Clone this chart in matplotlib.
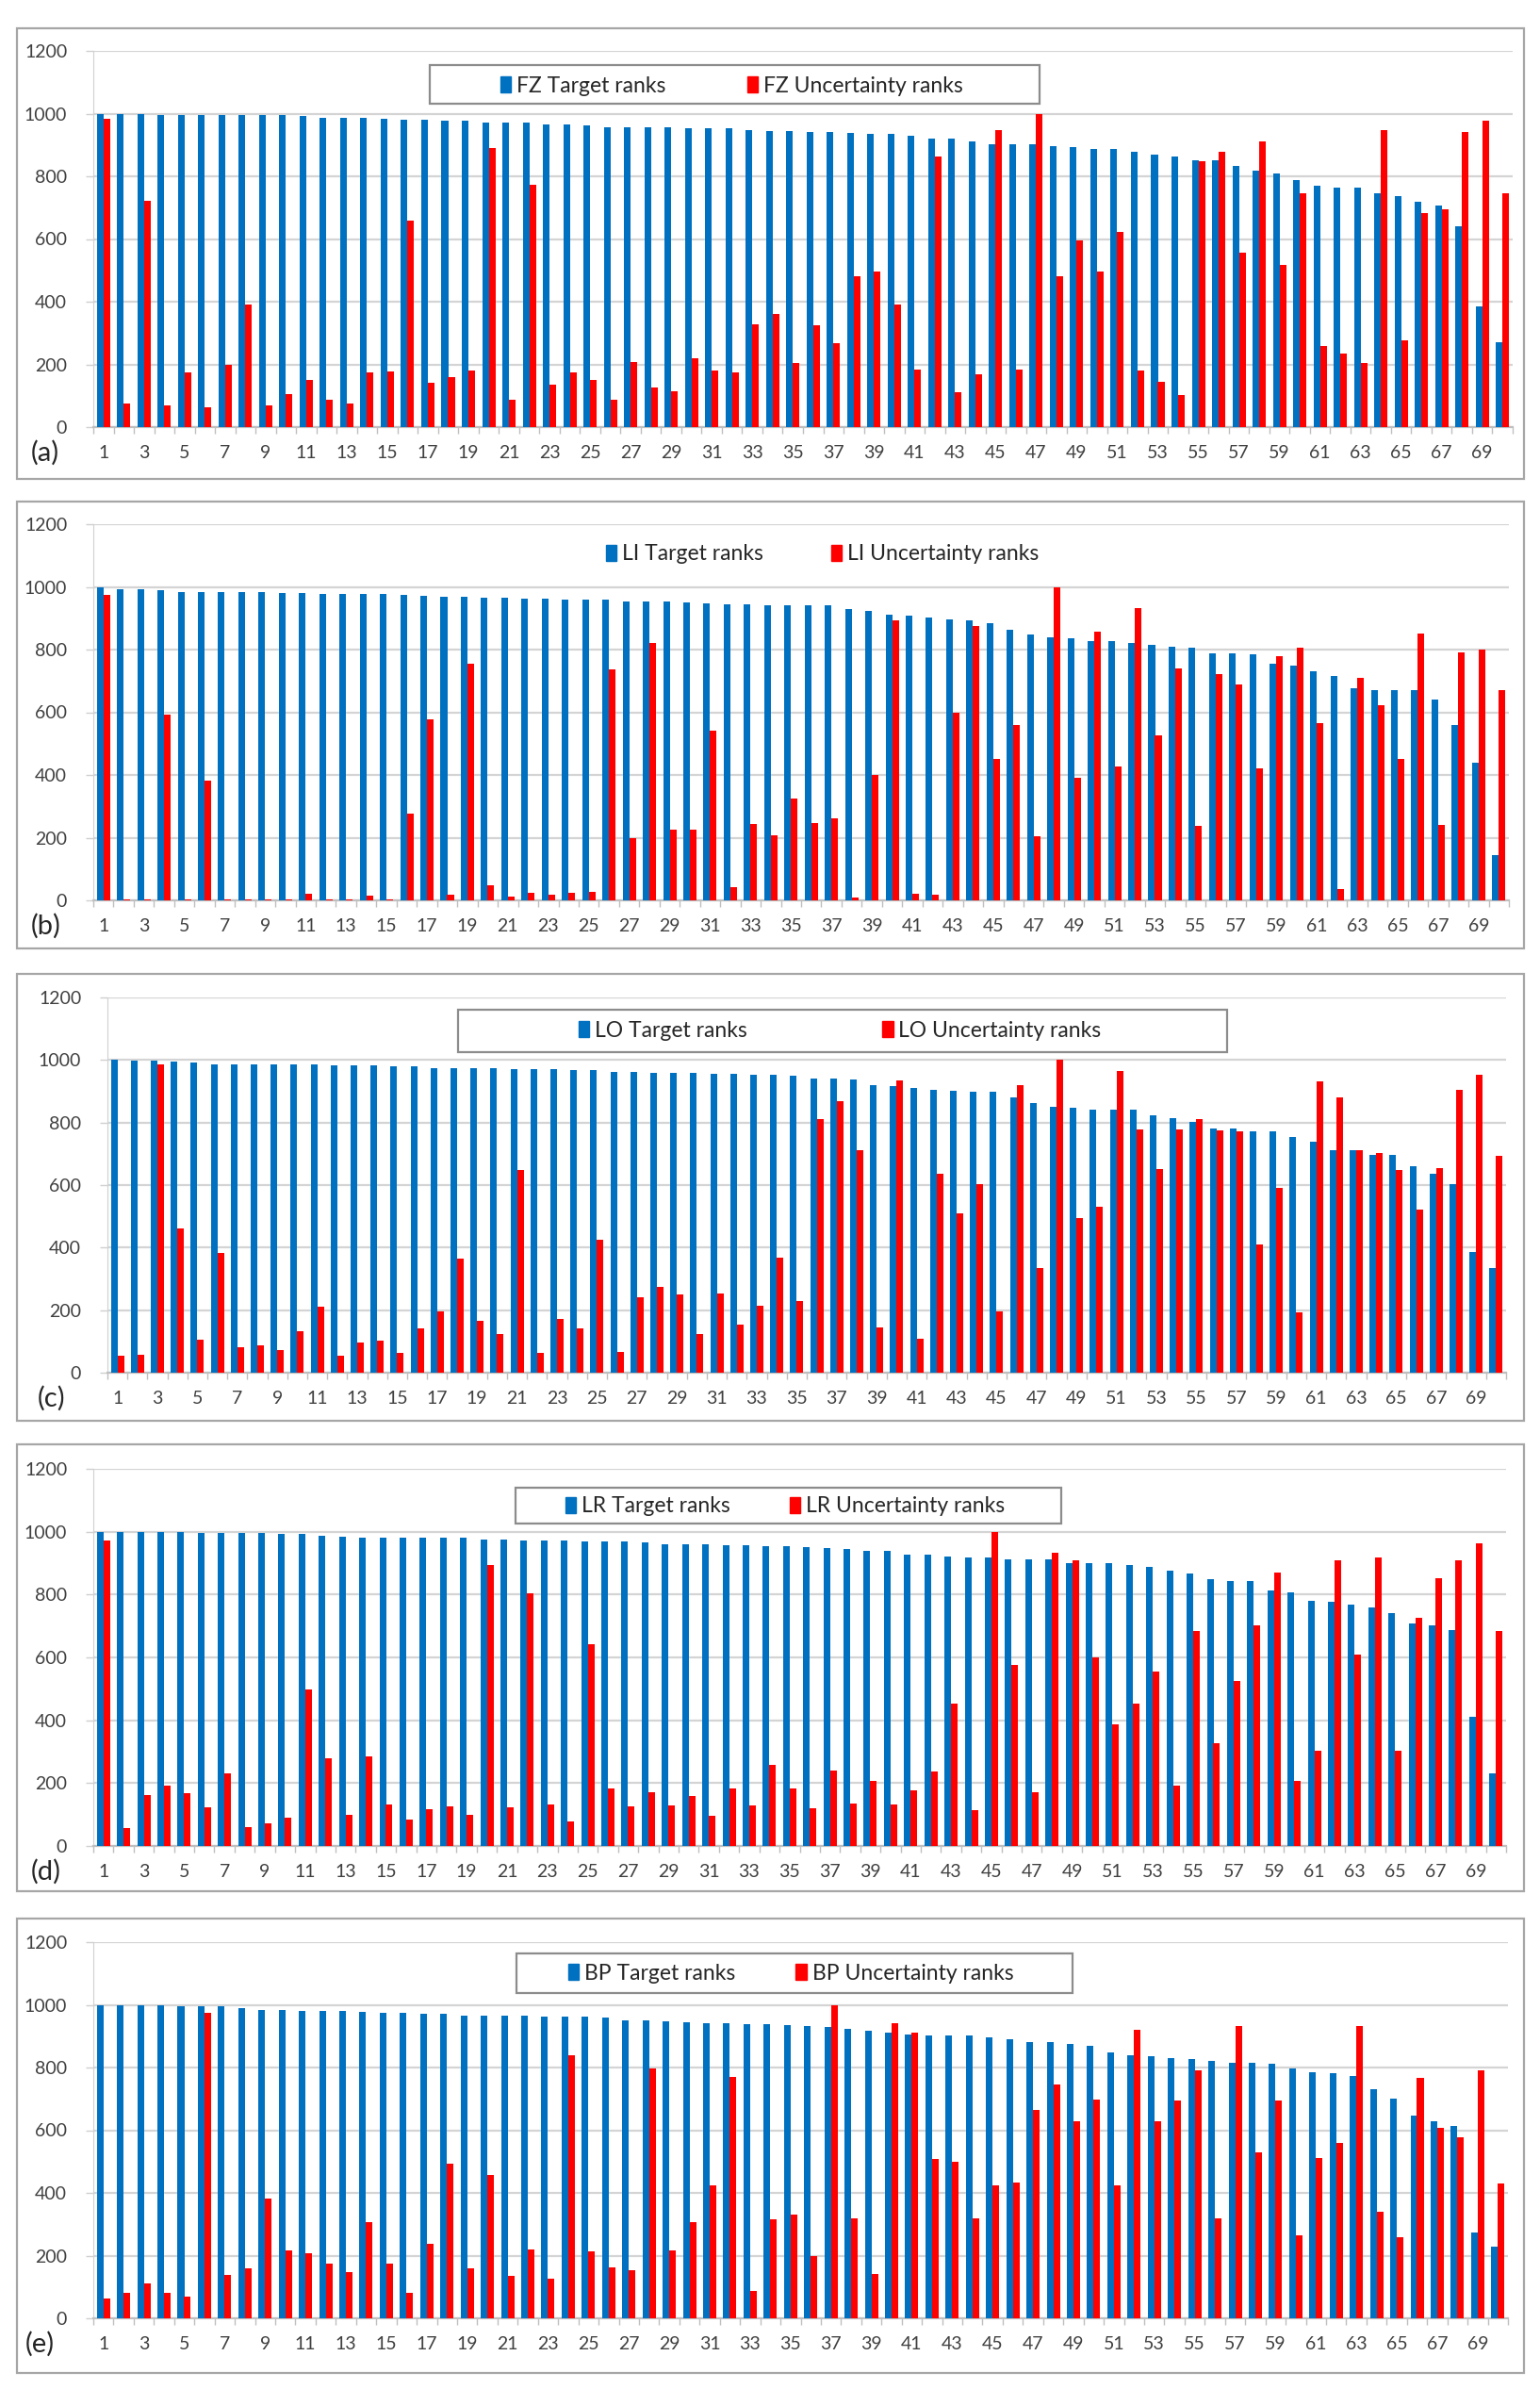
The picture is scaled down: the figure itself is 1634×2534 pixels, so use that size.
import numpy as np
import matplotlib
matplotlib.use('Agg')
import matplotlib.pyplot as plt
from matplotlib.patches import Rectangle, Patch

plt.rcParams['font.family'] = ['Lato', 'DejaVu Sans']

# values (rank, 1..70 per panel)
fz_target = [1000, 998, 998, 996, 996, 996, 996, 996, 996, 996,
             992, 986, 986, 985, 982, 980, 980, 976, 976, 972,
             972, 972, 966, 966, 962, 956, 956, 956, 956, 952,
             952, 952, 948, 944, 944, 940, 940, 937, 935, 934,
             928, 919, 919, 910, 902, 902, 902, 896, 892, 887,
             887, 877, 868, 864, 852, 852, 834, 819, 810, 787,
             770, 765, 765, 745, 737, 719, 707, 640, 384, 272]
fz_unc = [984, 76, 722, 70, 175, 64, 197, 390, 70, 106,
          150, 86, 76, 174, 176, 659, 140, 159, 179, 891,
          86, 774, 134, 175, 150, 86, 208, 126, 114, 220,
          179, 174, 329, 362, 205, 324, 268, 482, 496, 390,
          184, 864, 112, 167, 948, 182, 1000, 480, 594, 496,
          624, 179, 145, 102, 847, 877, 557, 912, 517, 745,
          259, 234, 206, 948, 277, 682, 696, 942, 976, 745]

li_target = [1000, 992, 992, 990, 984, 984, 982, 982, 982, 980,
             980, 978, 978, 978, 978, 974, 970, 968, 968, 966,
             966, 962, 962, 960, 958, 958, 954, 954, 954, 950,
             946, 944, 944, 940, 940, 940, 940, 930, 924, 912,
             908, 902, 896, 894, 884, 862, 848, 838, 836, 828,
             828, 822, 816, 810, 806, 788, 788, 784, 756, 750,
             730, 716, 678, 672, 672, 672, 640, 560, 440, 144]
li_unc = [973, 4, 4, 592, 4, 382, 4, 4, 4, 4,
          20, 4, 4, 16, 4, 276, 576, 19, 754, 49,
          11, 23, 19, 23, 26, 736, 198, 820, 226, 226,
          541, 41, 243, 208, 326, 246, 262, 8, 400, 894,
          21, 18, 598, 874, 451, 560, 206, 1000, 392, 858,
          426, 932, 526, 740, 238, 722, 690, 420, 778, 806,
          564, 36, 710, 622, 452, 850, 242, 790, 800, 670]

lo_target = [1000, 998, 998, 996, 992, 987, 987, 987, 987, 987,
             987, 984, 984, 982, 979, 979, 974, 974, 974, 974,
             970, 970, 970, 967, 967, 963, 963, 960, 960, 960,
             957, 957, 953, 953, 950, 941, 941, 937, 919, 917,
             912, 905, 901, 899, 897, 881, 863, 849, 846, 841,
             840, 840, 824, 813, 801, 781, 781, 772, 772, 754,
             738, 712, 712, 697, 695, 659, 635, 603, 387, 336]
lo_unc = [55, 58, 987, 462, 105, 384, 82, 86, 72, 133,
          210, 55, 95, 103, 64, 143, 196, 364, 166, 125,
          648, 64, 171, 143, 424, 67, 241, 273, 250, 123,
          253, 155, 215, 369, 228, 811, 868, 711, 145, 935,
          108, 635, 510, 603, 195, 921, 334, 1000, 494, 532,
          965, 778, 650, 778, 812, 776, 771, 410, 592, 193,
          931, 881, 712, 702, 647, 523, 653, 905, 953, 693]

lr_target = [1000, 998, 998, 998, 998, 996, 996, 996, 996, 993,
             993, 987, 984, 982, 982, 982, 982, 980, 980, 976,
             976, 972, 972, 972, 969, 969, 969, 965, 961, 961,
             959, 957, 957, 955, 953, 950, 948, 944, 940, 940,
             926, 926, 922, 918, 918, 912, 912, 912, 900, 900,
             900, 893, 888, 876, 868, 848, 843, 843, 812, 808,
             780, 778, 768, 758, 740, 708, 702, 688, 412, 232]
lr_unc = [972, 56, 161, 193, 168, 123, 230, 61, 71, 90,
          498, 278, 98, 284, 133, 85, 116, 125, 100, 893,
          123, 803, 131, 78, 642, 184, 125, 171, 130, 158,
          95, 184, 130, 258, 183, 120, 240, 136, 206, 133,
          178, 236, 453, 113, 1000, 576, 170, 933, 909, 601,
          388, 453, 556, 191, 684, 326, 526, 702, 870, 206,
          303, 908, 608, 918, 302, 726, 852, 910, 964, 684]

bp_target = [1000, 997, 997, 997, 994, 994, 994, 988, 982, 982,
             979, 979, 979, 976, 973, 973, 970, 970, 966, 966,
             966, 966, 963, 963, 963, 958, 950, 950, 947, 945,
             940, 940, 938, 938, 936, 932, 928, 922, 918, 910,
             906, 902, 902, 902, 896, 890, 880, 880, 874, 870,
             848, 840, 837, 830, 826, 822, 816, 816, 811, 798,
             786, 782, 772, 730, 702, 648, 628, 614, 274, 230]
bp_unc = [63, 80, 112, 80, 70, 974, 137, 160, 382, 217,
          208, 174, 148, 307, 174, 80, 237, 494, 158, 458,
          134, 220, 126, 838, 215, 163, 154, 798, 218, 307,
          425, 770, 88, 317, 332, 198, 1000, 320, 140, 940,
          912, 508, 498, 320, 425, 432, 665, 746, 628, 698,
          423, 920, 630, 696, 790, 318, 932, 530, 695, 266,
          512, 560, 932, 340, 258, 768, 608, 578, 790, 430]

codes = ['FZ', 'LI', 'LO', 'LR', 'BP']
letters = ['(a)', '(b)', '(c)', '(d)', '(e)']
targets = [fz_target, li_target, lo_target, lr_target, bp_target]
uncs = [fz_unc, li_unc, lo_unc, lr_unc, bp_unc]

W, H = 1634, 2534
BLUE = '#0070C0'
RED = '#FF0000'

# layout in pixels: axes (left, right, top, bottom), outer box (top, bottom),
# legend (first marker x, ycenter, column spacing), legend frame or None
axes_px = [(99, 1605, 54, 453), (99, 1601, 556, 955), (114, 1598, 1058, 1456),
           (99, 1598, 1558, 1958), (99, 1600, 2060, 2459)]
box_px = [(30, 508), (532, 1006), (1033, 1507), (1532, 2006), (2035, 2517)]
leg_px = [(531, 91, 3.76), (643, 588, 3.13), (614, 1093, 6.25),
          (600, 1598, 2.74), (603, 2093, 2.79)]
frame_px = [(456, 1103, 69, 110), None, (486, 1302, 1071, 1116),
            (547, 1126, 1578, 1616), (548, 1138, 2072, 2114)]
label_px = [(33, 480), (33, 982), (40, 1483), (33, 1985), (27, 2486)]

fig = plt.figure(figsize=(W / 100, H / 100), dpi=100)
x = np.arange(1, 71)

for i in range(5):
    l, r, t, b = axes_px[i]
    ax = fig.add_axes([l / W, 1 - b / H, (r - l) / W, (b - t) / H])

    bt, bb = box_px[i]
    fig.add_artist(Rectangle((18 / W, 1 - bb / H), (1617 - 18) / W, (bb - bt) / H,
                             transform=fig.transFigure, fill=False,
                             edgecolor='#A6A6A6', lw=1.6))

    ax.bar(x - 0.163, targets[i], width=0.327, color=BLUE, zorder=3)
    ax.bar(x + 0.163, uncs[i], width=0.327, color=RED, zorder=3)

    ax.set_xlim(0.5, 70.5)
    ax.set_ylim(0, 1200)
    ax.set_yticks(range(0, 1201, 200))
    ax.set_xticks(np.arange(1, 71, 2))
    ax.set_xticks(np.arange(0.5, 71, 1), minor=True)
    ax.tick_params(axis='x', which='major', length=0, pad=14, labelsize=14,
                   labelcolor='#404040')
    ax.tick_params(axis='x', which='minor', length=5, width=1, color='#BFBFBF')
    ax.tick_params(axis='y', length=6, width=1, color='#D0D0D0', pad=14,
                   labelsize=14, labelcolor='#404040')
    ax.grid(axis='y', color='#D4D4D4', lw=1.6, zorder=0)
    ax.set_axisbelow(True)
    for s in ['top', 'right']:
        ax.spines[s].set_visible(False)
    ax.spines['left'].set_color('#D0D0D0')
    ax.spines['bottom'].set_color('#BFBFBF')
    ax.spines['bottom'].set_linewidth(1.6)

    fr = frame_px[i]
    if fr is not None:
        fig.add_artist(Rectangle((fr[0] / W, 1 - fr[3] / H), (fr[1] - fr[0]) / W,
                                 (fr[3] - fr[2]) / H, transform=fig.transFigure,
                                 fill=False, edgecolor='#8C8C8C', lw=1.6, zorder=5))

    lx0, ly, csp = leg_px[i]
    handles = [Patch(color=BLUE, label=codes[i] + ' Target ranks'),
               Patch(color=RED, label=codes[i] + ' Uncertainty ranks')]
    ax.legend(handles=handles, ncol=2, loc='center left',
              bbox_to_anchor=(lx0 / W, 1 - ly / H),
              bbox_transform=fig.transFigure, frameon=False, borderpad=0,
              borderaxespad=0, handlelength=0.5, handleheight=0.75,
              handletextpad=0.25, columnspacing=csp, fontsize=16.5,
              labelcolor='#262626')

    lxp, lyp = label_px[i]
    fig.text(lxp / W, 1 - lyp / H, letters[i], fontsize=21, ha='left',
             va='center', color='#262626')

fig.savefig('out.png', dpi=100, facecolor='white')
